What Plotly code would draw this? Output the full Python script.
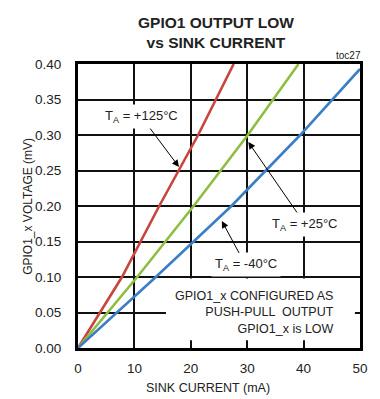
import plotly.graph_objects as go

# Data
red_current = [0, 7.8, 14.4, 21.3, 27.6]
red_voltage = [0, 0.10, 0.20, 0.30, 0.40]

green_current = [0, 10.5, 20.5, 30.1, 39.1]
green_voltage = [0, 0.10, 0.20, 0.30, 0.40]

blue_current = [0, 13.8, 27.2, 39.4, 50]
blue_voltage = [0, 0.10, 0.20, 0.30, 0.393]

x_ticks = [0, 10, 20, 30, 40, 50]
y_ticks = [0.00, 0.05, 0.10, 0.15, 0.20, 0.25, 0.30, 0.35, 0.40]
y_tick_labels = ["0.00", "0.05", "0.10", "0.15", "0.20", "0.25", "0.30", "0.35", "0.40"]

FONT = "Liberation Sans, Arial, Helvetica, sans-serif"
TXT = "#222222"

fig = go.Figure()
for xs, ys, col in [(red_current, red_voltage, "#C8453E"),
                    (green_current, green_voltage, "#8DBE42"),
                    (blue_current, blue_voltage, "#3B7DC6")]:
    fig.add_trace(go.Scatter(x=xs, y=ys, mode="lines",
                             line=dict(color=col, width=2.6),
                             showlegend=False, hoverinfo="skip"))

fig.update_layout(
    width=380, height=399,
    margin=dict(l=78, r=12, t=64, b=51),
    paper_bgcolor="white", plot_bgcolor="white",
    font=dict(family=FONT, size=13, color=TXT),
    showlegend=False,
)
fig.update_xaxes(range=[0, 50], tickvals=x_ticks, showgrid=True, gridcolor="#111111", gridwidth=2,
                 zeroline=False, showline=True, linecolor="black", linewidth=3, mirror=True,
                 ticks="", ticklabelstandoff=6, tickfont=dict(size=13.5, family=FONT, color=TXT))
fig.update_yaxes(range=[0, 0.40], tickvals=y_ticks, ticktext=y_tick_labels, showgrid=True,
                 gridcolor="#111111", gridwidth=2, zeroline=False, showline=True, linecolor="black",
                 linewidth=3, mirror=True, ticks="", ticklabelstandoff=11,
                 tickfont=dict(size=13.5, family=FONT, color=TXT))

# white box behind the configuration note (covers grid, not curves)
fig.add_shape(type="rect", xref="x", yref="y", x0=15.6, x1=49.1, y0=0.011, y1=0.098,
              fillcolor="white", line=dict(width=0), layer="between")

# title
fig.add_annotation(xref="paper", yref="paper", x=0.491, y=1.112, xanchor="center", yanchor="middle",
                   text="<b>GPIO1 OUTPUT LOW<br>vs SINK CURRENT</b>", showarrow=False,
                   font=dict(size=15.5, family=FONT, color=TXT))
fig.add_annotation(xref="paper", yref="paper", x=1.01, y=1.005, xanchor="right", yanchor="bottom",
                   text="toc27", showarrow=False, font=dict(size=10, family=FONT, color=TXT))

# axis titles
fig.add_annotation(xref="paper", yref="paper", x=(212 - 78) / 290, y=(348 - 388) / 284,
                   xanchor="center", yanchor="middle", text="SINK CURRENT (mA)", showarrow=False,
                   font=dict(size=12.5, family=FONT, color=TXT))
fig.add_annotation(xref="paper", yref="paper", x=(26.7 - 78) / 290, y=(348 - 206.7) / 284,
                   xanchor="center", yanchor="middle", text="GPIO1_x VOLTAGE (mV)", textangle=-90,
                   showarrow=False, font=dict(size=12, family=FONT, color=TXT))

# temperature labels with arrows pointing at the curves
labels = [("T<sub>A</sub> = +125°C", 11.2, 0.326, 17.9, 0.255),
          ("T<sub>A</sub> = +25°C", 40.3, 0.174, 30.2, 0.290),
          ("T<sub>A</sub> = -40°C", 29.7, 0.117, 25.5, 0.179)]
for txt, lx, ly, hx, hy in labels:
    fig.add_annotation(x=hx, y=hy, ax=lx, ay=ly, axref="x", ayref="y", xref="x", yref="y",
                       text=txt, showarrow=True, arrowhead=2, arrowsize=1.4, arrowwidth=1,
                       arrowcolor="black", standoff=0, bgcolor="white", borderpad=3,
                       font=dict(size=13, family=FONT, color=TXT))

fig.add_annotation(x=45.7, y=0.050, xanchor="right", yanchor="middle", align="right",
                   text="GPIO1_x CONFIGURED AS<br>PUSH-PULL  OUTPUT<br>GPIO1_x is LOW",
                   showarrow=False, font=dict(size=12.5, family=FONT, color=TXT))

fig.write_html("out.html")
